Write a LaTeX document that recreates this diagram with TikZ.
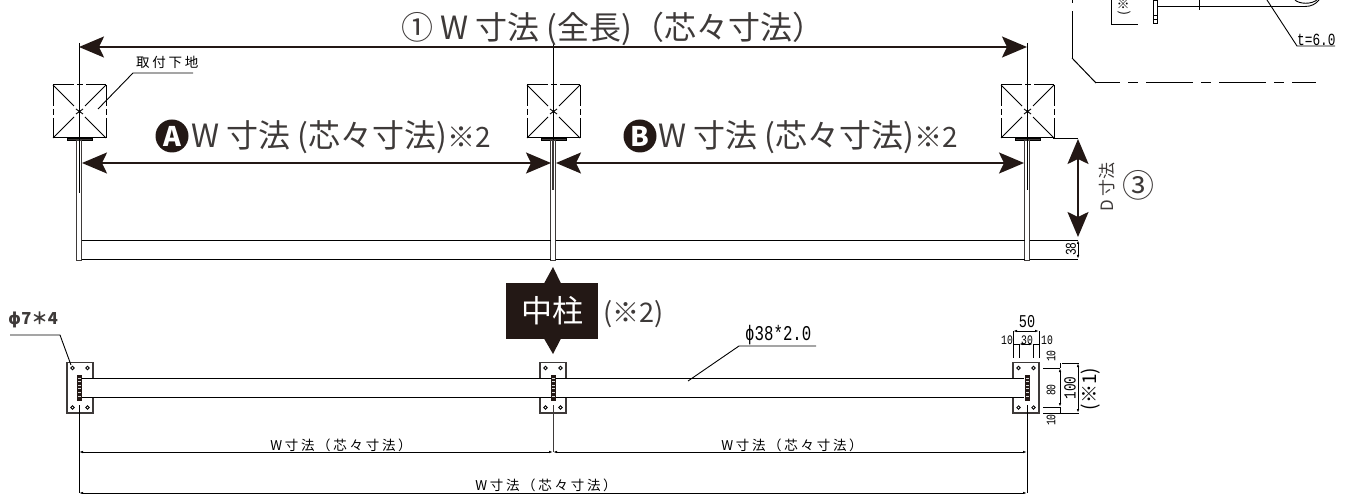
\documentclass[tikz,border=0pt]{standalone}
\usepackage{fontspec}
\usepackage{xcolor}
\usetikzlibrary{arrows.meta}
\setmainfont{Noto Sans CJK JP}
\newfontfamily\cadfont[LetterSpace=20]{Noto Sans CJK JP}
\newfontfamily\numfont[FakeStretch=0.75]{Liberation Mono}
\newfontfamily\symfont{DejaVu Sans}
\definecolor{inkblack}{HTML}{231815}
\definecolor{inkgray}{HTML}{3E3A39}
\tikzset{
    bigdim/.style={inkblack, line width=2pt, {Stealth[length=25pt,width=21pt,inset=5pt]}-{Stealth[length=25pt,width=21pt,inset=5pt]}},
    smalldim/.style={black, line width=0.9pt, {Latex[length=4pt,width=2.5pt]}-{Latex[length=4pt,width=2.5pt]}},
    thinline/.style={black, line width=0.9pt},
    leaderline/.style={black, line width=0.9pt},
    biglabel/.style={inkgray, inner sep=0pt, font=\fontsize{32}{32}\selectfont},
    cadlabel/.style={black, inner sep=0pt, font=\cadfont\fontsize{13.5}{13.5}\selectfont},
    numlabel/.style={black, inner sep=0pt, font=\numfont\fontsize{13}{13}\selectfont},
    markdot/.style={circle, fill=inkblack, text=white, inner sep=0pt, minimum size=33pt, font=\bfseries\fontsize{27}{27}\selectfont}
}
\begin{document}
\begin{tikzpicture}[x=1pt, y=-1pt]
    \useasboundingbox (0,0) rectangle (1346,494);
    \clip (0,0) rectangle (1346,494);

    % Post positions
    \coordinate (postL) at (79,47);
    \coordinate (postM) at (553,47);
    \coordinate (postR) at (1027,47);

    % Upper view: mounting blocks and posts
    \foreach \x in {79,553,1027} {
        \begin{scope}[shift={(\x,0)}]
            \draw[black, line width=1pt, dash pattern=on 21pt off 3pt on 6pt off 3pt on 21pt] (-26,85) -- (27,85);
            \draw[black, line width=1pt, dash pattern=on 21pt off 3pt on 6pt off 3pt on 21pt] (-26,85) -- (-26,138);
            \draw[black, line width=1pt, dash pattern=on 21pt off 3pt on 6pt off 3pt on 21pt] (27,85) -- (27,138);
            \draw[black, line width=1pt] (-26,138) -- (27,138);
            \draw[black, line width=0.9pt] (-26,85) -- (-5,106) (27,85) -- (6,106) (-26,138) -- (-5,117) (27,138) -- (6,117);
            \draw[black, line width=0.9pt] (-3,109) -- (4,114) (4,109) -- (-3,114);
            \filldraw[fill=inkgray, draw=black, line width=0.6pt] (-12,138) rectangle (13,140.5);
            \draw[fill=white, draw=inkgray, line width=1pt] (-2.5,140.5) rectangle (2.5,261);
        \end{scope}
    }
    \draw[black, line width=1pt] (79,43) -- (79,193);
    \draw[black, line width=1pt] (553,43) -- (553,190);
    \draw[inkgray, line width=2.5pt] (553,140.5) -- (553,190);
    \draw[black, line width=1pt] (1027,43) -- (1027,190);
    \draw[black, line width=1pt] (549,47) -- (557,47);

    % Rail and depth
    \draw[thinline] (81.5,240) -- (550.5,240) (555.5,240) -- (1024.5,240) (1029.5,240) -- (1078,240);
    \draw[thinline] (81.5,259) -- (550.5,259) (555.5,259) -- (1024.5,259) (1029.5,259) -- (1078,259);
    \draw[thinline] (1053,138) -- (1078,138);

    % Large dimensions
    \draw[bigdim] (postL) -- (postR);
    \coordinate (spanAl) at (82,163);
    \coordinate (spanAr) at (551,163);
    \coordinate (spanBl) at (556,163);
    \coordinate (spanBr) at (1024,163);
    \draw[bigdim] (spanAl) -- (spanAr);
    \draw[bigdim] (spanBl) -- (spanBr);
    \coordinate (depthT) at (1078,139);
    \coordinate (depthB) at (1078,237);
    \draw[bigdim] (depthT) -- (depthB);
    \draw[smalldim] (1078,240) -- (1078,259);

    \node[biglabel] (titlelabel) at (613,29) {① W 寸法 (全長)（芯々寸法）};
    \node[markdot] (markA) at (172,136) {A};
    \node[biglabel, anchor=west] (spanAlabel) at (191,137) {W 寸法 (芯々寸法){\fontsize{28}{28}\selectfont ※2}};
    \node[markdot] (markB) at (640,136) {B};
    \node[biglabel, anchor=west] (spanBlabel) at (658,137) {W 寸法 (芯々寸法){\fontsize{28}{28}\selectfont ※2}};
    \node[biglabel, rotate=90, font=\fontsize{17}{17}\selectfont] (depthlabel) at (1107,187) {D 寸法};
    \node[biglabel] (depthnum) at (1138,185) {③};
    \node[numlabel, rotate=90, font=\numfont\fontsize{15}{15}\selectfont] (railnum) at (1071,249) {38};

    % Mounting base label
    \node[cadlabel, anchor=west, font=\cadfont\fontsize{13.5}{13.5}\selectfont] (baselabel) at (136,62) {取付下地};
    \coordinate (baseA) at (193,73);
    \coordinate (baseB) at (133,73);
    \coordinate (baseC) at (98,109);
    \draw[leaderline] (baseA) -- (baseB) -- (baseC);

    % Centre post callout
    \node[fill=inkblack, text=white, inner sep=0pt, minimum width=92pt, minimum height=56pt, font=\fontsize{31}{31}\selectfont] (midpost) at (552,311) {中柱};
    \fill[inkblack] (544,283.5) -- (553,267) -- (561,283.5) -- cycle;
    \fill[inkblack] (544,338.5) -- (553,354) -- (561,338.5) -- cycle;
    \node[inkgray, inner sep=0pt, anchor=west, font=\fontsize{27}{27}\selectfont] (midnote) at (603,314) {(※2)};

    % Lower view: plates
    \foreach \x/\pl in {79/67,553/540,1027/1013} {
        \draw[inkgray, line width=1.1pt] (\pl,378.5) -- (\pl,362.5) -- (\pl+26,362.5) -- (\pl+26,378.5);
        \draw[inkgray, line width=1.1pt] (\pl,397.5) -- (\pl,413) -- (\pl+26,413) -- (\pl+26,397.5);
        \foreach \hx in {5.5,20.5} {
            \foreach \hy in {368,407.5} {
                \draw[black, line width=0.8pt] (\pl+\hx,\hy) circle (1.7);
            }
        }
        \fill[inkblack] (\x-2,375) rectangle (\x+3,401);
        \foreach \sy in {378,381,384.5,388,392,396} {
            \fill[white!70!gray] (\x-1,\sy) rectangle (\x+2,\sy+1.4);
        }
    }
    \draw[inkgray, line width=1.1pt] (67,378) -- (67,398) (1039,378) -- (1039,398);

    % Pipe
    \draw[thinline] (82,378.5) -- (551,378.5) (556,378.5) -- (1024,378.5);
    \draw[thinline] (82,397.5) -- (551,397.5) (556,397.5) -- (1024,397.5);

    % Lower dimensions
    \draw[thinline] (79,405) -- (79,493);
    \draw[inkgray, line width=1pt] (553,405) -- (553,452);
    \draw[thinline] (1027,405) -- (1027,493);
    \draw[smalldim] (79,452) -- (553,452);
    \draw[smalldim] (553,452) -- (1027,452);
    \draw[smalldim] (79,493) -- (1027,493);
    \node[cadlabel] (lowA) at (341,445) {W寸法（芯々寸法）};
    \node[cadlabel] (lowB) at (792,445) {W寸法（芯々寸法）};
    \node[cadlabel] (lowall) at (546,485.5) {W寸法（芯々寸法）};

    % Hole and pipe leaders
    \node[inkgray, inner sep=0pt, anchor=west, font=\bfseries\fontsize{16.5}{16.5}\selectfont] (holelabel) at (8,320) {{\symfont\bfseries ϕ}7＊4};
    \coordinate (holeA) at (10,335);
    \coordinate (holeB) at (60,335);
    \coordinate (holeC) at (71,365);
    \draw[leaderline] (holeA) -- (holeB) -- (holeC);
    \node[numlabel, anchor=south west, font=\numfont\fontsize{21}{21}\selectfont] (pipelabel) at (745,345) {ϕ38*2.0};
    \coordinate (pipeA) at (816,346);
    \coordinate (pipeB) at (739,346);
    \coordinate (pipeC) at (688,381);
    \draw[leaderline] (pipeA) -- (pipeB) -- (pipeC);

    % Plate dimensions
    \draw[thinline] (1013,331) -- (1013,358) (1039,331) -- (1039,358);
    \draw[thinline] (1019,344) -- (1019,358) (1033,344) -- (1033,358);
    \draw[smalldim] (1013,331) -- (1039,331);
    \draw[smalldim] (1019,344) -- (1033,344);
    \draw[thinline] (1013,344) -- (1019,344) (1033,344) -- (1039,344);
    \node[numlabel, font=\numfont\fontsize{18}{18}\selectfont] (plw) at (1027,322) {50};
    \node[numlabel] (plwa) at (1007,340) {10};
    \node[numlabel] (plwb) at (1027,340) {30};
    \node[numlabel] (plwc) at (1047,340) {10};

    \draw[thinline] (1043,368) -- (1060,368) (1043,407) -- (1060,407);
    \draw[thinline] (1062,363) -- (1079,363) (1043,413) -- (1079,413);
    \draw[smalldim] (1060,368) -- (1060,407);
    \draw[smalldim] (1078,363) -- (1078,413);
    \draw[thinline] (1060,363) -- (1060,368) (1060,407) -- (1060,413);
    \node[numlabel, rotate=90] (plha) at (1051,356) {10};
    \node[numlabel, rotate=90] (plhb) at (1051,390) {80};
    \node[numlabel, rotate=90] (plhc) at (1051,420) {10};
    \node[numlabel, rotate=90, font=\numfont\fontsize{17}{17}\selectfont] (plh) at (1070,388) {100};
    \node[black, inner sep=0pt, rotate=90, font=\fontsize{19}{19}\selectfont] (plnote) at (1091,389) {(※1)};

    % Detail inset, cut off at the top
    \draw[black, line width=1pt, dash pattern=on 47pt off 8pt on 10pt off 8pt, dash phase=23pt] (1096,83) -- (1316,83);
    \draw[black, line width=1pt] (1072,58) -- (1096,83);
    \draw[black, line width=1pt, dash pattern=on 47pt off 8pt on 10pt off 8pt] (1072,58) -- (1072,-20);
    \draw[thinline] (1111,0) -- (1111,24) -- (1138,24);
    \node[black, inner sep=0pt, anchor=west, rotate=90, font=\fontsize{13}{13}\selectfont] (insetnote) at (1124,15.5) {(※};
    \draw[black, line width=0.9pt] (1153,0) rectangle (1157,23.5);
    \draw[black, line width=0.6pt] (1153,15) -- (1157,15) (1153,19) -- (1157,19);
    \draw[thinline] (1157,6.5) -- (1305,6.5);
    \draw[thinline] (1199,0) -- (1199,10);
    \draw[thinline] (1305,6.5) .. controls (1311,6.5) and (1316,4) .. (1319,0);
    \draw[thinline] (1295,0) .. controls (1299,4) and (1312,5) .. (1318,-1);
    \coordinate (thickA) at (1335,46);
    \coordinate (thickB) at (1297,46);
    \coordinate (thickC) at (1267,0);
    \draw[leaderline] (thickA) -- (thickB) -- (thickC);
    \node[numlabel, anchor=south west, font=\numfont\fontsize{17}{17}\selectfont] (thicklabel) at (1297,45.5) {t=6.0};
\end{tikzpicture}
\end{document}
